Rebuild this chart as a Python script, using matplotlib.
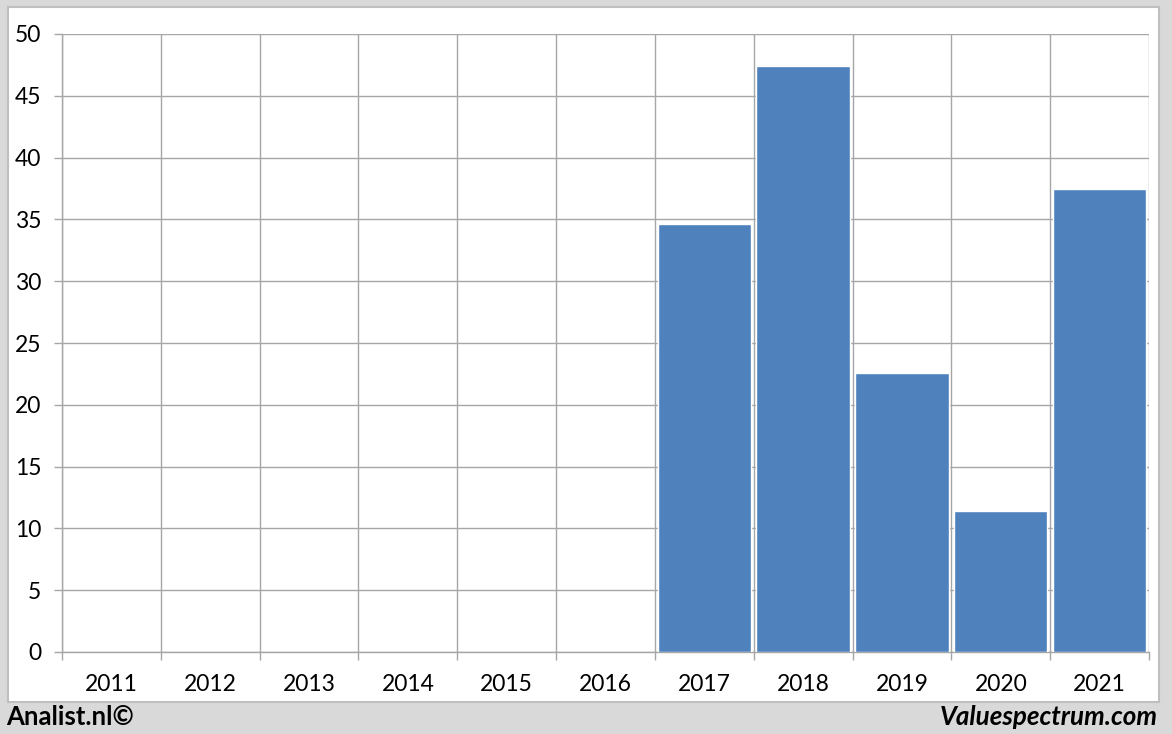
import matplotlib
matplotlib.use("Agg")
import matplotlib.pyplot as plt
import numpy as np
from matplotlib.patches import Rectangle

years = ["2011", "2012", "2013", "2014", "2015", "2016", "2017", "2018", "2019", "2020", "2021"]
values = [np.nan, np.nan, np.nan, np.nan, np.nan, np.nan, 34.6, 47.4, 22.6, 11.4, 37.5]
yticks = [0, 5, 10, 15, 20, 25, 30, 35, 40, 45, 50]

W, H = 1172, 734
fig = plt.figure(figsize=(W / 100, H / 100), dpi=100)
fig.patch.set_facecolor("#d9d9d9")

panel = Rectangle((8 / W, 1 - 702 / H), (1159 - 8) / W, (702 - 7) / H,
                  transform=fig.transFigure, facecolor="white", edgecolor="#bfbfbf",
                  linewidth=1.5, zorder=-10)
fig.patches.append(panel)

ax = fig.add_axes([62 / W, 1 - 652 / H, (1149 - 62) / W, (652 - 34) / H])
ax.set_facecolor("none")
x = np.arange(len(years))
ax.bar(x, values, width=0.945, color="#4f81bd", edgecolor="white", linewidth=1.0, zorder=3)

ax.set_xlim(-0.5, len(years) - 0.5)
ax.set_ylim(0, 50)
ax.set_yticks(yticks)
ax.set_xticks(x)
ax.set_xticklabels(years)
ax.set_xticks(np.arange(-0.5, len(years), 1.0), minor=True)

fam = ["Lato", "DejaVu Sans"]
for lab in ax.get_xticklabels() + ax.get_yticklabels():
    lab.set_fontfamily(fam)
    lab.set_fontsize(16.5)
    lab.set_color("black")

ax.tick_params(axis="y", which="major", length=6, width=1, color="#a6a6a6", pad=9, direction="out")
ax.tick_params(axis="x", which="major", length=0, pad=16)
ax.tick_params(axis="x", which="minor", length=6, width=1, color="#a6a6a6", direction="out")

ax.grid(True, axis="y", which="major", color="#a6a6a6", linewidth=1, zorder=1)
ax.grid(True, axis="x", which="minor", color="#a6a6a6", linewidth=1, zorder=1)
ax.grid(False, axis="x", which="major")
for s in ["top", "right"]:
    ax.spines[s].set_visible(False)
for s in ["left", "bottom"]:
    ax.spines[s].set_color("#a6a6a6")
    ax.spines[s].set_linewidth(1)
ax.set_axisbelow(True)

fig.text(6 / W, 1 - 717 / H, "Analist.nl©", fontsize=18.5, fontweight="bold",
         family=fam, ha="left", va="center", color="black")
fig.text(1158 / W, 1 - 717 / H, "Valuespectrum.com", fontsize=18.7, fontweight="bold",
         style="italic", family=fam, ha="right", va="center", color="black")

fig.savefig("out.png", dpi=100, facecolor=fig.get_facecolor())
